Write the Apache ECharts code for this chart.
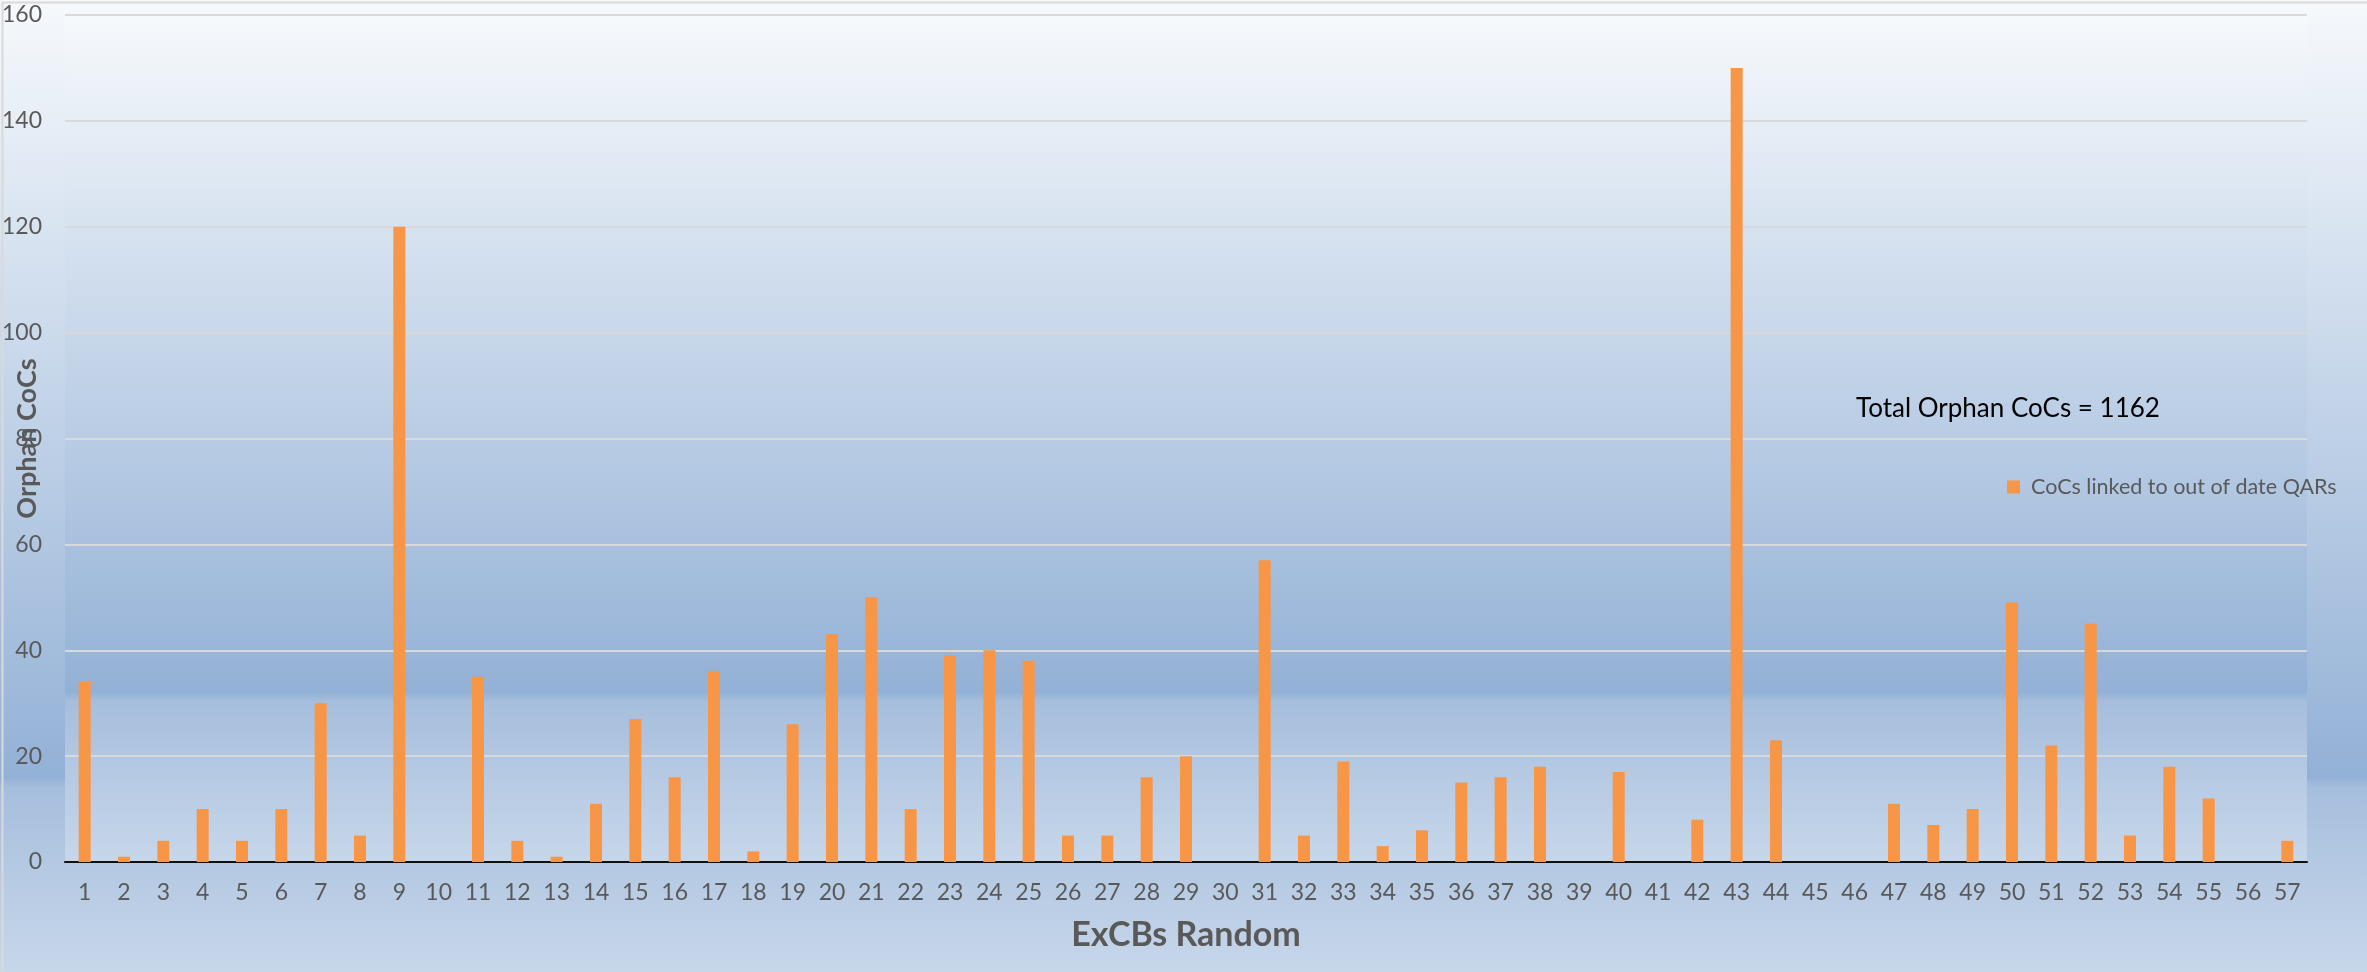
<!DOCTYPE html>
<html>
<head>
<meta charset="utf-8">
<title>Orphan CoCs</title>
<script src="https://cdn.jsdelivr.net/npm/echarts@6/dist/echarts.min.js"></script>
<style>
  html, body { margin: 0; padding: 0; }
  #chart { width: 2367px; height: 972px; }
</style>
</head>
<body>
<div id="chart"></div>
<script>
// ExCB ids along the x axis
const categories = [
  '1','2','3','4','5','6','7','8','9','10','11','12','13','14','15','16','17','18','19','20',
  '21','22','23','24','25','26','27','28','29','30','31','32','33','34','35','36','37','38','39','40',
  '41','42','43','44','45','46','47','48','49','50','51','52','53','54','55','56','57'
]

// CoCs linked to out of date QARs, per ExCB (sums to 1162)
const orphanCounts = [
  34, 1, 4, 10, 4, 10, 30, 5, 120, 0,
  35, 4, 1, 11, 27, 16, 36, 2, 26, 43,
  50, 10, 39, 40, 38, 5, 5, 16, 20, 0,
  57, 5, 19, 3, 6, 15, 16, 18, 0, 17,
  0, 8, 150, 23, 0, 0, 11, 7, 10, 49,
  22, 45, 5, 18, 12, 0, 4
]

const seriesName = 'CoCs linked to out of date QARs'
const totalText = 'Total Orphan CoCs = 1162'

const chart = echarts.init(document.getElementById('chart'))

// excel-ish "light gradient" fill, reused for chart + plot area
const bgGradient = () => new echarts.graphic.LinearGradient(0, 0, 0, 1, [
  { offset: 0, color: '#f6f9fc' },
  { offset: 0.8, color: '#93b1d6' },
  { offset: 0.81, color: '#a6bedd' },
  { offset: 1, color: '#c7d7ea' }
])

const labelFont = 'Lato, "Open Sans", sans-serif'

chart.setOption({
  backgroundColor: bgGradient(),
  animation: false,
  title: {
    text: totalText,
    left: 1856,
    top: 396,
    padding: 0,
    textStyle: {
      color: '#000',
      fontFamily: labelFont,
      fontWeight: 'normal',
      fontSize: 26
    }
  },
  legend: {
    data: [seriesName],
    left: 2007,
    top: 476,
    padding: 0,
    icon: 'rect',
    itemWidth: 13,
    itemHeight: 13,
    textStyle: {
      color: '#595959',
      fontFamily: labelFont,
      fontSize: 21.5,
      padding: [0, 0, 0, 6]
    }
  },
  grid: {
    left: 65,
    right: 60,
    top: 15,
    bottom: 110,
    containLabel: false,
    outerBoundsMode: 'none',
    show: true,
    borderWidth: 0,
    backgroundColor: bgGradient()
  },
  xAxis: {
    type: 'category',
    data: categories,
    name: 'ExCBs Random',
    nameLocation: 'middle',
    nameGap: 56,
    nameMoveOverlap: false,
    nameTextStyle: {
      color: '#595959',
      fontFamily: labelFont,
      fontWeight: 'bold',
      fontSize: 34
    },
    axisLine: { lineStyle: { color: '#111', width: 2 } },
    axisTick: { show: false },
    axisLabel: {
      interval: 0,
      margin: 19,
      color: '#595959',
      fontFamily: labelFont,
      fontSize: 23
    }
  },
  yAxis: {
    type: 'value',
    min: 0,
    max: 160,
    interval: 20,
    name: 'Orphan CoCs',
    nameLocation: 'middle',
    nameRotate: 90,
    nameGap: 24,
    nameMoveOverlap: false,
    nameTextStyle: {
      color: '#595959',
      fontFamily: labelFont,
      fontWeight: 'bold',
      fontSize: 27
    },
    axisLine: { show: false },
    axisTick: { show: false },
    axisLabel: {
      margin: 23,
      color: '#595959',
      fontFamily: labelFont,
      fontSize: 23
    },
    splitLine: { lineStyle: { color: '#d9d9d9', width: 2 } }
  },
  series: [{
    name: seriesName,
    type: 'bar',
    data: orphanCounts,
    barWidth: 12,
    itemStyle: {
      color: '#f79646'
    }
  }],
  graphic: [{
    type: 'rect',
    left: 0,
    top: 0,
    shape: { width: 2366, height: 971 },
    style: { fill: 'none', stroke: '#d9d9d9', lineWidth: 2 },
    silent: true
  }]
})

window.addEventListener('resize', () => chart.resize())
</script>
</body>
</html>
